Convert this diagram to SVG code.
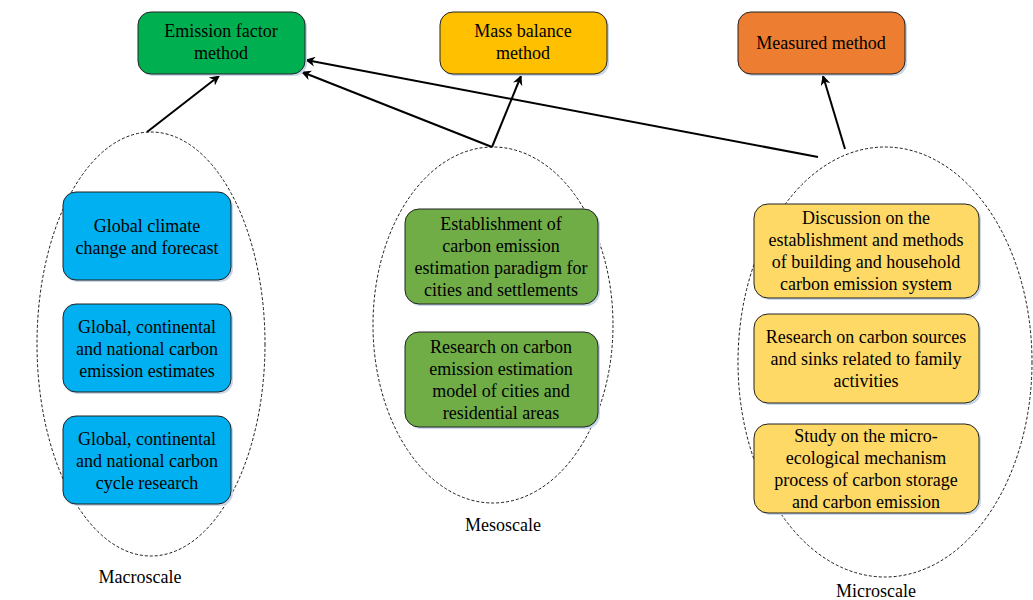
<svg xmlns="http://www.w3.org/2000/svg" width="1033" height="600" viewBox="0 0 1033 600">
<defs>
<marker id="ah" markerWidth="10" markerHeight="10" refX="9" refY="5" orient="auto" markerUnits="userSpaceOnUse">
<path d="M0,0 L10,5 L0,10 L3,5 Z" fill="#000"/>
</marker>
</defs>
<style>
text{font-family:"Liberation Serif","Times New Roman",serif;font-size:18px;fill:#000;text-anchor:middle}
.box{stroke:#222;stroke-width:1}
.sh{fill:#c9d7ea}
.ell{fill:none;stroke:#000;stroke-width:0.9;stroke-dasharray:3,2}
.con{stroke:#000;stroke-width:2;fill:none;marker-end:url(#ah)}
</style>
<rect width="1033" height="600" fill="#fff"/>

<g id="scales">
<g id="macroscale"><ellipse class="ell" cx="151" cy="344" rx="114" ry="212"/><text x="140" y="583">Macroscale</text></g>
<g id="mesoscale"><ellipse class="ell" cx="493" cy="325" rx="120" ry="178"/><text x="503" y="531">Mesoscale</text></g>
<g id="microscale"><ellipse class="ell" cx="885" cy="362" rx="147" ry="215"/><text x="876" y="597">Microscale</text></g>
</g>

<g id="connectors">
<line class="con" x1="147" y1="132" x2="219" y2="76"/>
<line class="con" x1="492" y1="147" x2="302" y2="72"/>
<line class="con" x1="492" y1="147" x2="521" y2="76"/>
<line class="con" x1="818" y1="157" x2="306" y2="60"/>
<line class="con" x1="845" y1="149" x2="823" y2="76"/>
</g>

<g id="emission-factor">
<rect class="sh" x="140" y="14" width="167" height="62" rx="13"/>
<rect class="box" x="138" y="12" width="167" height="62" rx="13" fill="#00B050"/>
<text x="221" y="37">Emission factor</text><text x="221" y="59">method</text>
</g>
<g id="mass-balance">
<rect class="sh" x="442" y="14" width="167" height="62" rx="13"/>
<rect class="box" x="440" y="12" width="167" height="62" rx="13" fill="#FFC000"/>
<text x="523" y="37">Mass balance</text><text x="523" y="59">method</text>
</g>
<g id="measured">
<rect class="sh" x="740" y="14" width="167" height="62" rx="13"/>
<rect class="box" x="738" y="12" width="167" height="62" rx="13" fill="#ED7D31"/>
<text x="821" y="49">Measured method</text>
</g>

<g id="macro1">
<rect class="sh" x="65" y="194" width="168" height="88" rx="13"/>
<rect class="box" x="63" y="192" width="168" height="88" rx="13" fill="#00B0F0"/>
<text x="147" y="232">Global climate</text><text x="147" y="254">change and forecast</text>
</g>
<g id="macro2">
<rect class="sh" x="65" y="306" width="168" height="88" rx="13"/>
<rect class="box" x="63" y="304" width="168" height="88" rx="13" fill="#00B0F0"/>
<text x="147" y="333">Global, continental</text><text x="147" y="355">and national carbon</text><text x="147" y="377">emission estimates</text>
</g>
<g id="macro3">
<rect class="sh" x="65" y="418" width="168" height="88" rx="13"/>
<rect class="box" x="63" y="416" width="168" height="88" rx="13" fill="#00B0F0"/>
<text x="147" y="445">Global, continental</text><text x="147" y="467">and national carbon</text><text x="147" y="489">cycle research</text>
</g>

<g id="meso1">
<rect class="sh" x="407" y="211" width="193" height="95" rx="14"/>
<rect class="box" x="405" y="209" width="193" height="95" rx="14" fill="#70AD47"/>
<text x="501" y="230">Establishment of</text><text x="501" y="252">carbon emission</text><text x="501" y="274">estimation paradigm for</text><text x="501" y="296">cities and settlements</text>
</g>
<g id="meso2">
<rect class="sh" x="407" y="334" width="193" height="95" rx="14"/>
<rect class="box" x="405" y="332" width="193" height="95" rx="14" fill="#70AD47"/>
<text x="501" y="353">Research on carbon</text><text x="501" y="375">emission estimation</text><text x="501" y="397">model of cities and</text><text x="501" y="419">residential areas</text>
</g>

<g id="micro1">
<rect class="sh" x="756" y="206" width="225" height="94" rx="14"/>
<rect class="box" x="754" y="204" width="225" height="94" rx="14" fill="#FFD966"/>
<text x="866" y="224">Discussion on the</text><text x="866" y="246">establishment and methods</text><text x="866" y="268">of building and household</text><text x="866" y="290">carbon emission system</text>
</g>
<g id="micro2">
<rect class="sh" x="756" y="316" width="225" height="89" rx="14"/>
<rect class="box" x="754" y="314" width="225" height="89" rx="14" fill="#FFD966"/>
<text x="866" y="343">Research on carbon sources</text><text x="866" y="365">and sinks related to family</text><text x="866" y="387">activities</text>
</g>
<g id="micro3">
<rect class="sh" x="756" y="426" width="225" height="89" rx="14"/>
<rect class="box" x="754" y="424" width="225" height="89" rx="14" fill="#FFD966"/>
<text x="866" y="442">Study on the micro-</text><text x="866" y="464">ecological mechanism</text><text x="866" y="486">process of carbon storage</text><text x="866" y="508">and carbon emission</text>
</g>
</svg>
